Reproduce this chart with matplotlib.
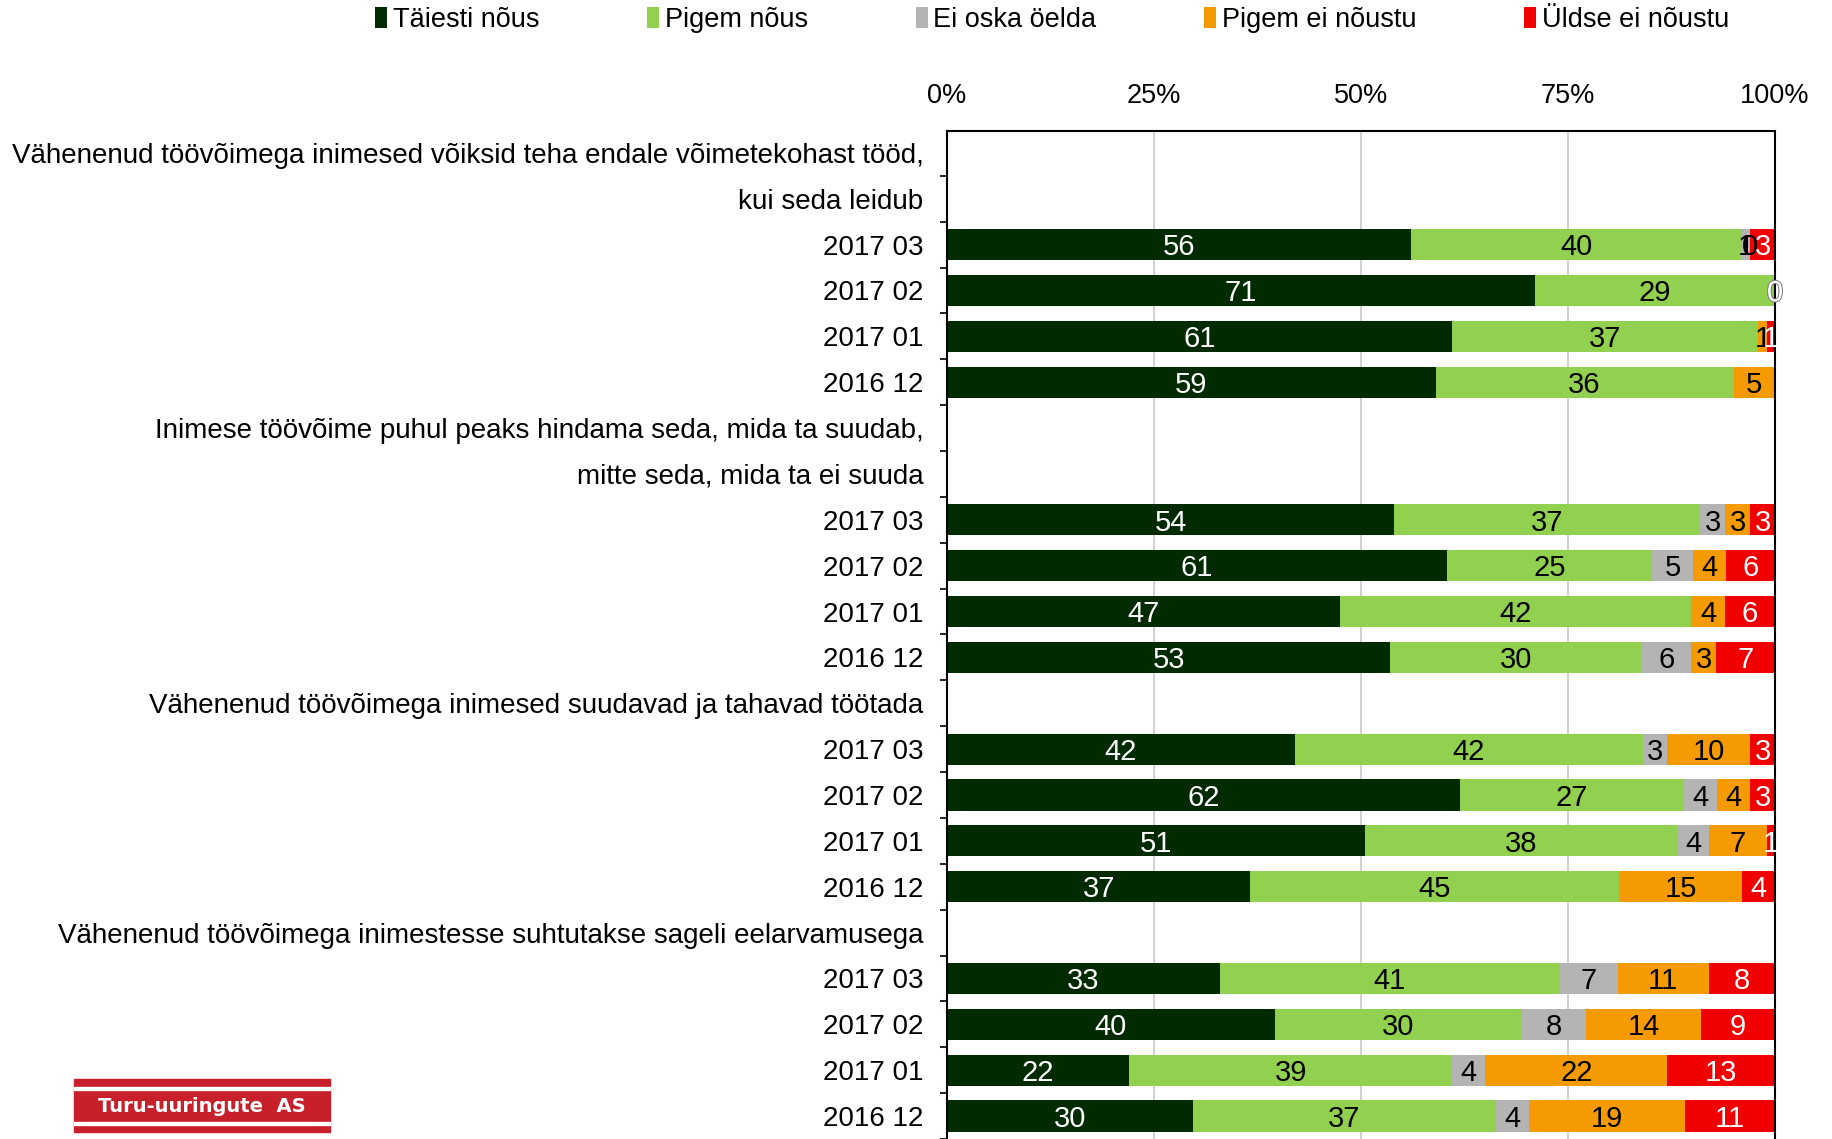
import matplotlib.pyplot as plt
import matplotlib.patheffects as pe
from matplotlib.patches import Rectangle, Patch
import numpy as np

plt.rcParams['font.family'] = ['Liberation Sans', 'DejaVu Sans']

# group titles (each line is one row in the chart)
titles = [
    ["Vähenenud töövõimega inimesed võiksid teha endale võimetekohast tööd,", "kui seda leidub"],
    ["Inimese töövõime puhul peaks hindama seda, mida ta suudab,", "mitte seda, mida ta ei suuda"],
    ["Vähenenud töövõimega inimesed suudavad ja tahavad töötada"],
    ["Vähenenud töövõimega inimestesse suhtutakse sageli eelarvamusega"],
]
periods = ["2017 03", "2017 02", "2017 01", "2016 12"]
series = ["Täiesti nõus", "Pigem nõus", "Ei oska öelda", "Pigem ei nõustu", "Üldse ei nõustu"]

taiesti = [[56, 71, 61, 59], [54, 61, 47, 53], [42, 62, 51, 37], [33, 40, 22, 30]]
pigem = [[40, 29, 37, 36], [37, 25, 42, 30], [42, 27, 38, 45], [41, 30, 39, 37]]
ei_oska = [[1, 0, 0, 0], [3, 5, 0, 6], [3, 4, 4, 0], [7, 8, 4, 4]]
pigem_ei = [[0, 0, 1, 5], [3, 4, 4, 3], [10, 4, 7, 15], [11, 14, 22, 19]]
uldse = [[3, 0, 1, 0], [3, 6, 6, 7], [3, 3, 1, 4], [8, 9, 13, 11]]
# zero values that still got a label in the original (group, period, series)
shown_zeros = [(0, 0, 3), (0, 1, 4)]

colors = ['#002b00', '#92d050', '#b4b4b4', '#f59a00', '#f00000']
label_colors = ['white', 'black', 'black', 'black', 'white']
all_series = [taiesti, pigem, ei_oska, pigem_ei, uldse]

# build row list
row_labels = []
bar_rows = []  # (row index, group, period)
for g, t in enumerate(titles):
    for line in t:
        row_labels.append(line)
    for p, per in enumerate(periods):
        bar_rows.append((len(row_labels), g, p))
        row_labels.append(per)

W, H = 1833, 1139
fig = plt.figure(figsize=(W / 100, H / 100), dpi=100)
ax = fig.add_axes([947 / W, 0, (1775 - 947) / W, 1 - 131 / H])

lbl_font = ['Liberation Sans Narrow', 'Liberation Sans']
bar_h = 0.68
for r, g, p in bar_rows:
    vals = np.array([s[g][p] for s in all_series], dtype=float)
    pct = vals / vals.sum() * 100
    left = 0
    for k in range(5):
        if pct[k] > 0:
            ax.barh(r, pct[k], left=left, height=bar_h, color=colors[k], zorder=2)
        if vals[k] > 0 or (g, p, k) in shown_zeros:
            t = ax.text(left + pct[k] / 2, r + 0.06, '%d' % vals[k], ha='center', va='center',
                        fontsize=21, family=lbl_font, color=label_colors[k], zorder=3,
                        clip_on=False)
            if vals[k] == 0 and label_colors[k] == 'white':
                t.set_path_effects([pe.withStroke(linewidth=1.5, foreground='#808080')])
        left += pct[k]

ax.set_xlim(0, 100)
ax.set_ylim(21.37, -0.477)
ax.set_xticks([0, 25, 50, 75, 100])
ax.set_xticklabels(['0%', '25%', '50%', '75%', '100%'])
ax.xaxis.tick_top()
ax.tick_params(axis='x', length=0, pad=16, labelsize=19.5)
ax.set_yticks(range(len(row_labels)))
ax.set_yticklabels(row_labels)
ax.tick_params(axis='y', which='major', length=0, pad=17, labelsize=20)
ax.set_yticks(np.arange(len(row_labels)) + 0.5, minor=True)
ax.tick_params(axis='y', which='minor', length=5, width=1.2, direction='out')
ax.grid(axis='x', color='#c8c8c8', lw=1.2, zorder=0)
for s in ['left', 'top', 'right']:
    ax.spines[s].set_linewidth(1.5)
    ax.spines[s].set_color('black')
ax.spines['bottom'].set_visible(False)

handles = [Patch(facecolor=c) for c in colors]
fig.legend(handles, series, loc='center', bbox_to_anchor=(1052 / W, 1 - 20 / H), ncol=5,
           frameon=False, fontsize=19.5, handlelength=0.45, handleheight=0.8,
           handletextpad=0.2, columnspacing=3.98)

# logo
fig.patches.append(Rectangle((74 / W, 1 - 1132 / H), 256 / W, 53 / H,
                             transform=fig.transFigure, color='#c8202a', zorder=5))
for yy in [1088, 1123]:
    fig.patches.append(Rectangle((74 / W, 1 - (yy + 1.5) / H), 256 / W, 3 / H,
                                 transform=fig.transFigure, color='white', zorder=6))
fig.text(202 / W, 1 - 1106 / H, 'Turu-uuringute  AS', ha='center', va='center',
         color='white', fontsize=14, fontweight='bold', family='DejaVu Sans', zorder=7)

fig.savefig('out.png', dpi=100)
